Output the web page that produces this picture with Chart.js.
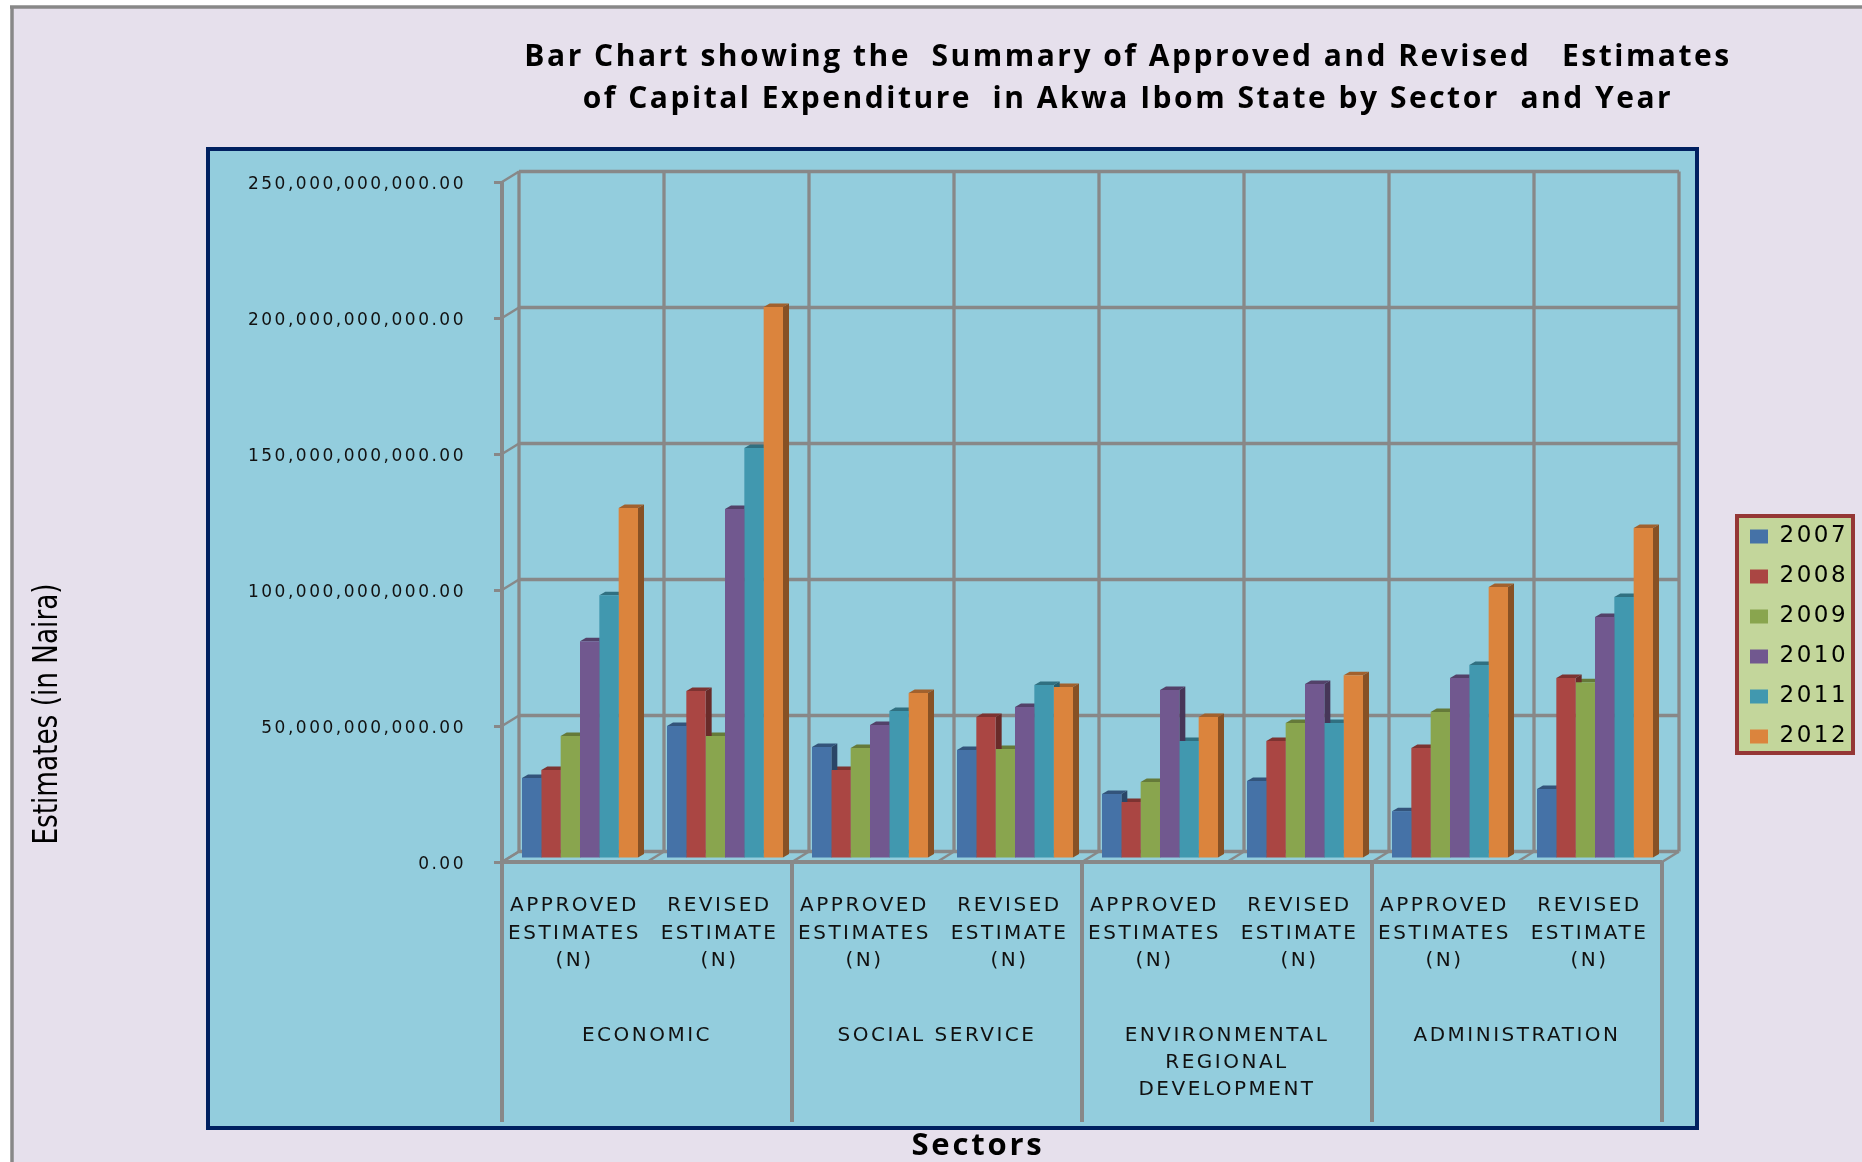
<!DOCTYPE html>
<html><head><meta charset="utf-8">
<style>html,body{margin:0;padding:0;background:#fff}canvas{display:block}</style>
<script src="https://cdn.jsdelivr.net/npm/chart.js@4/dist/chart.umd.min.js"></script>
</head><body><canvas id="c" width="1862" height="1162"></canvas>
<script>
const subCategories = [
  ["APPROVED","ESTIMATES","(N)"],["REVISED","ESTIMATE","(N)"],
  ["APPROVED","ESTIMATES","(N)"],["REVISED","ESTIMATE","(N)"],
  ["APPROVED","ESTIMATES","(N)"],["REVISED","ESTIMATE","(N)"],
  ["APPROVED","ESTIMATES","(N)"],["REVISED","ESTIMATE","(N)"]];
const sectors = ["ECONOMIC","SOCIAL SERVICE",["ENVIRONMENTAL","REGIONAL","DEVELOPMENT"],"ADMINISTRATION"];
const years = ["2007","2008","2009","2010","2011","2012"];
const v2007 = [29.8e9,48.9e9,41.2e9,40.1e9,23.9e9,28.7e9,17.6e9,25.7e9];
const v2008 = [32.7e9,61.8e9,32.7e9,52.2e9,21.0e9,43.4e9,40.8e9,66.5e9];
const v2009 = [45.2e9,45.2e9,40.8e9,40.4e9,28.3e9,50.0e9,54.0e9,65.0e9];
const v2010 = [80.1e9,128.7e9,49.3e9,55.9e9,62.1e9,64.3e9,66.5e9,89.0e9];
const v2011 = [97.0e9,151.1e9,54.4e9,64.0e9,43.4e9,50.0e9,71.3e9,96.3e9];
const v2012 = [129.0e9,202.9e9,61.0e9,63.2e9,52.2e9,67.6e9,100.0e9,121.7e9];
const seriesValues = [v2007,v2008,v2009,v2010,v2011,v2012];
const seriesColors = ["#4572A7","#AA4643","#89A54E","#71588F","#4198AF","#DB843D"];
const yTicksMax = 250e9, yStep = 50e9;
const titleLines = ["Bar Chart showing the  Summary of Approved and Revised   Estimates","of Capital Expenditure  in Akwa Ibom State by Sector  and Year"];
const yTitle = "Estimates (in Naira)", xTitle = "Sectors";

const GRAY="#888888", DEPTH_X=17, DEPTH_Y=10.5, BAR_DX=5.5, BAR_DY=-3, SIDE_X=6, SIDE_Y=3.5;
function shade(hex,f){const n=parseInt(hex.slice(1),16);
  return `rgb(${(n>>16&255)*f|0},${(n>>8&255)*f|0},${(n&255)*f|0})`;}
function line(ctx,x0,y0,x1,y1,w){ctx.lineWidth=w;ctx.beginPath();ctx.moveTo(x0,y0);ctx.lineTo(x1,y1);ctx.stroke();}
function poly(ctx,pts,fill){ctx.fillStyle=fill;ctx.beginPath();pts.forEach((p,i)=>i?ctx.lineTo(p[0],p[1]):ctx.moveTo(p[0],p[1]));ctx.closePath();ctx.fill();}
function wrap(obj,name,spacing,tf){const orig=obj[name];obj[name]=function(...a){const c=this.ctx;c.save();c.letterSpacing=spacing;if(tf)tf(c);orig.apply(this,a);c.restore();};}

const frame3d={id:'frame3d',
  afterLayout(chart){
    const L=chart.legend;L.left=1733;L.right=1852;L.top=508;L.bottom=900;L.width=119;L.height=392;
    const T=chart.titleBlock;T.left=300;T.right=1956;
    if(!chart.$wrapped){chart.$wrapped=true;
      wrap(T,'draw','2.5px');
      wrap(chart.scales.y,'drawTitle','0px',c=>{c.translate(0,714);c.scale(1,0.86);c.translate(0,-522);});
      wrap(chart.scales.y,'drawLabels','2.5px',c=>c.translate(0,3));
      wrap(chart.scales.x2,'drawTitle','2.8px',c=>c.translate(-104,3));
    }
  },
  beforeDraw(chart){const c=chart.ctx;c.save();
    c.fillStyle="#fff";c.fillRect(0,0,1862,1162);
    c.fillStyle="#E6E0EC";c.fillRect(12,7,1850,1155);
    c.strokeStyle=GRAY;line(c,12,1162,12,7,3.5);line(c,10,7,1862,7,3.5);
    c.fillStyle="#93CDDD";c.fillRect(208,149,1489,979);
    c.strokeStyle="#002060";c.lineWidth=4;c.strokeRect(208,149,1489,979);
    c.fillStyle="#C3D69B";c.fillRect(1737,516,116,237);
    c.strokeStyle="#953735";c.lineWidth=4;c.strokeRect(1737,516,116,237);
    c.restore();
    c.letterSpacing='2.5px';
  },
  beforeDatasetsDraw(chart){const c=chart.ctx,{x,x2,y}=chart.scales;
    c.save();c.strokeStyle=GRAY;c.lineCap='butt';
    const bL=x.left+DEPTH_X,bR=x.right+DEPTH_X;
    y.ticks.forEach(t=>{const p=y.getPixelForValue(t.value);
      line(c,x.left,p,bL,p-DEPTH_Y,2.5);line(c,bL,p-DEPTH_Y,bR,p-DEPTH_Y,3.3);});
    const top=y.getPixelForValue(yTicksMax)-DEPTH_Y,bot=y.getPixelForValue(0);
    const w=(x.right-x.left)/subCategories.length;
    for(let i=0;i<=subCategories.length;i++){const fx=x.left+i*w;
      line(c,fx+DEPTH_X,top,fx+DEPTH_X,bot-DEPTH_Y,3.3);
      line(c,fx,bot,fx+DEPTH_X,bot-DEPTH_Y,2.5);}
    line(c,x.left,top+DEPTH_Y,x.left,bot,4);
    const sw=(x2.right-x2.left)/sectors.length;
    for(let i=0;i<=sectors.length;i++){const fx=x2.left+i*sw;line(c,fx,bot,fx,1122,4);}
    line(c,x.left,bot,x.right,bot,4);
    c.restore();
    c.save();c.translate(BAR_DX,BAR_DY);
    for(let d=seriesValues.length-1;d>=0;d--){
      const col=seriesColors[d];
      chart.getDatasetMeta(d).data.forEach(el=>{
        const l=el.x-el.width/2,r=el.x+el.width/2,t=el.y,b=el.base;
        poly(c,[[l,t],[l+SIDE_X,t-SIDE_Y],[r+SIDE_X,t-SIDE_Y],[r,t]],shade(col,.74));
        poly(c,[[r,t],[r+SIDE_X,t-SIDE_Y],[r+SIDE_X,b-SIDE_Y],[r,b]],shade(col,.62));
      });
    }
  },
  afterDatasetsDraw(chart){chart.ctx.restore();}
};

new Chart(document.getElementById('c').getContext('2d'),{
  type:'bar',
  data:{labels:subCategories,
    datasets:years.map((yr,i)=>({label:yr,data:seriesValues[i],backgroundColor:seriesColors[i],borderWidth:0,clip:false,
      barPercentage:1,categoryPercentage:0.8}))},
  plugins:[frame3d],
  options:{responsive:false,animation:false,devicePixelRatio:1,
    layout:{padding:{left:0,right:200,top:0,bottom:0}},
    plugins:{tooltip:{enabled:false},
      title:{display:true,text:titleLines,color:"#000",align:'center',
        font:{family:"'Open Sans'",size:30,weight:'bold',lineHeight:1.4},padding:{top:36,bottom:62}},
      legend:{display:true,position:'chartArea',align:'start',
        labels:{boxWidth:18,boxHeight:14,padding:17,color:"#000",font:{family:"'DejaVu Sans'",size:23}}}},
    scales:{
      x:{type:'category',position:'bottom',offset:true,weight:0,
        afterFit:s=>{s.height=138;},
        grid:{display:false},border:{display:true,color:GRAY,width:3},
        ticks:{autoSkip:false,maxRotation:0,minRotation:0,padding:22,color:"#111",
          font:{family:"'DejaVu Sans'",size:20,lineHeight:1.38}}},
      x2:{type:'category',position:'bottom',labels:sectors,offset:true,weight:1,
        afterFit:s=>{s.height=162;},
        grid:{display:false},border:{display:false},
        ticks:{autoSkip:false,maxRotation:0,minRotation:0,padding:14,color:"#111",
          font:{family:"'DejaVu Sans'",size:20,lineHeight:1.36}},
        title:{display:true,text:xTitle,color:"#000",padding:{top:0,bottom:0},
          font:{family:"'Open Sans'",size:31,weight:'bold',lineHeight:1.2}}},
      y:{type:'linear',position:'left',min:0,max:yTicksMax,
        afterFit:s=>{s.width=502;},
        grid:{drawOnChartArea:false,drawTicks:true,tickLength:8,color:GRAY,lineWidth:3},
        border:{display:true,color:GRAY,width:3},
        ticks:{stepSize:yStep,padding:28,color:"#111",
          font:{family:"'DejaVu Sans'",size:17},
          callback:v=>v.toLocaleString('en-US',{minimumFractionDigits:2,maximumFractionDigits:2})},
        title:{display:true,text:yTitle,color:"#000",padding:{top:28,bottom:0},
          font:{family:"'Liberation Sans Narrow','DejaVu Sans Condensed'",size:34,lineHeight:1.2}}}
    }}
});
</script></body></html>
